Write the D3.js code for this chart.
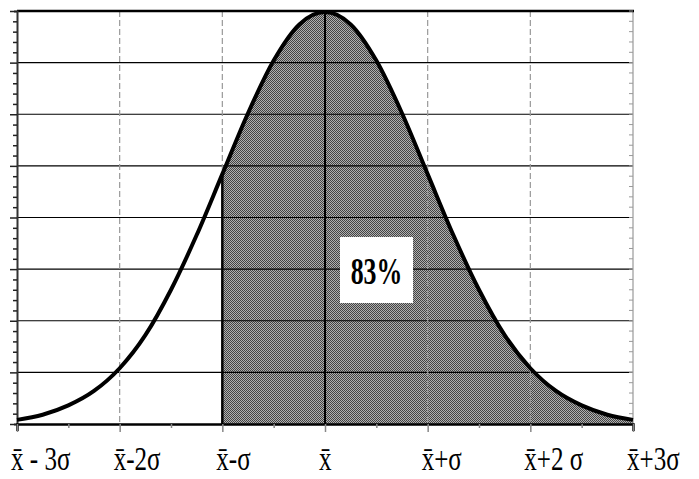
<!DOCTYPE html>
<html>
<head>
<meta charset="utf-8">
<script src="https://cdn.jsdelivr.net/npm/d3@7"></script>
<style>
  body { margin: 0; background: #fff; }
  svg { display: block; }
</style>
</head>
<body>
<div id="chart"></div>
<script>
// svg size
const c_width = 699;
const c_height = 479;

// data (x in sigma units, y = density)
const sigmaSteps = [-3, -2.75, -2.5, -2.25, -2, -1.75, -1.5, -1.25, -1, -0.75, -0.5, -0.25, 0,
                    0.25, 0.5, 0.75, 1, 1.25, 1.5, 1.75, 2, 2.25, 2.5, 2.75, 3];
const density = [0.004, 0.009, 0.018, 0.032, 0.054, 0.086, 0.130, 0.183, 0.242, 0.301, 0.352, 0.387, 0.399,
                 0.387, 0.352, 0.301, 0.242, 0.183, 0.130, 0.086, 0.054, 0.032, 0.018, 0.009, 0.004];
const tickValues = [-3, -2, -1, 0, 1, 2, 3];
const tickLabels = ["x\u0304 - 3\u03c3", "x\u0304-2\u03c3", "x\u0304-\u03c3", "x\u0304", "x\u0304+\u03c3", "x\u0304+2 \u03c3", "x\u0304+3\u03c3"];
const gridValues = [0.05, 0.1, 0.15, 0.2, 0.25, 0.3, 0.35];
const shadeFrom = -1;
const shadeTo = 3;
const shadeLabel = "83%";

const points = sigmaSteps.map((s, i) => ({x: s, y: density[i]}));

// plot area
const pLeft = 17, pRight = 633, pTop = 11, pBottom = 424;

const xScale = d3.scaleLinear().domain([-3, 3]).range([pLeft, pRight]);
const yScale = d3.scaleLinear().domain([0, 0.4]).range([pBottom, pTop]);

const svg = d3.select("#chart")
              .append("svg")
              .attr("width", c_width)
              .attr("height", c_height);

// dithered fill
const pat = svg.append("defs").append("pattern")
               .attr("id", "dither")
               .attr("width", 2).attr("height", 2)
               .attr("patternUnits", "userSpaceOnUse");
pat.append("rect").attr("width", 2).attr("height", 2).attr("fill", "#b0b0b0");
pat.append("rect").attr("width", 1).attr("height", 1).attr("fill", "#444");
pat.append("rect").attr("x", 1).attr("y", 1).attr("width", 1).attr("height", 1).attr("fill", "#444");

// shaded area
const shaded = points.filter(d => d.x >= shadeFrom && d.x <= shadeTo);
const area = d3.area()
               .x(d => xScale(d.x))
               .y0(yScale(0))
               .y1(d => yScale(d.y))
               .curve(d3.curveMonotoneX);
svg.append("path")
   .datum(shaded)
   .attr("d", area)
   .attr("fill", "url(#dither)");

// horizontal grid
svg.append("g")
   .selectAll("line")
   .data(gridValues)
   .enter()
   .append("line")
   .attr("x1", pLeft).attr("x2", pRight)
   .attr("y1", d => yScale(d)).attr("y2", d => yScale(d))
   .attr("stroke", "#000")
   .attr("stroke-width", 1.2);

// vertical dashed grid
svg.append("g")
   .selectAll("line")
   .data(tickValues.filter(d => d !== 0 && d !== -3))
   .enter()
   .append("line")
   .attr("x1", d => xScale(d)).attr("x2", d => xScale(d))
   .attr("y1", pTop).attr("y2", pBottom)
   .attr("stroke", "#999")
   .attr("stroke-width", 1.2)
   .attr("stroke-dasharray", d => d === 3 ? null : "6,3");

// center line
svg.append("line")
   .attr("x1", xScale(0)).attr("x2", xScale(0))
   .attr("y1", pTop).attr("y2", pBottom)
   .attr("stroke", "#000")
   .attr("stroke-width", 2);

// left edge of shading
svg.append("line")
   .attr("x1", xScale(shadeFrom)).attr("x2", xScale(shadeFrom))
   .attr("y1", yScale(density[sigmaSteps.indexOf(shadeFrom)])).attr("y2", pBottom)
   .attr("stroke", "#000")
   .attr("stroke-width", 2.5);

// top border
svg.append("line")
   .attr("x1", pLeft).attr("x2", pRight + 1)
   .attr("y1", pTop).attr("y2", pTop)
   .attr("stroke", "#000")
   .attr("stroke-width", 2.5);

// right side minor ticks (inside)
const minorY = d3.range(0, 0.4001, 0.01);
svg.append("g")
   .selectAll("line")
   .data(minorY)
   .enter()
   .append("line")
   .attr("x1", pRight - 4).attr("x2", pRight)
   .attr("y1", d => yScale(d)).attr("y2", d => yScale(d))
   .attr("stroke", "#999")
   .attr("stroke-width", 1);

// left axis
const yAxis = d3.axisLeft(yScale)
                .tickValues(minorY)
                .tickSize(3)
                .tickFormat("");
const yg = svg.append("g")
   .attr("transform", "translate(" + pLeft + ",0)")
   .call(yAxis);
yg.select(".domain").attr("stroke", "#333").attr("stroke-width", 2);
yg.selectAll(".tick line")
  .attr("stroke", "#222")
  .attr("stroke-width", 1.5)
  .attr("x2", d => Math.abs(d * 20 - Math.round(d * 20)) < 1e-6 ? -7 : -4);

// bottom axis
const xAxis = d3.axisBottom(xScale)
                .tickValues(d3.range(-3, 3.01, 0.5))
                .tickSize(7)
                .tickFormat("");
const xg = svg.append("g")
   .attr("transform", "translate(0," + pBottom + ")")
   .call(xAxis);
xg.select(".domain").attr("stroke", "#000").attr("stroke-width", 2.5);
xg.selectAll(".tick line")
  .attr("stroke", "#888")
  .attr("stroke-width", 1.5)
  .attr("y2", d => Number.isInteger(d) ? 8 : 4);

// curve
const line = d3.line()
               .x(d => xScale(d.x))
               .y(d => yScale(d.y))
               .curve(d3.curveMonotoneX);
svg.append("path")
   .datum(points)
   .attr("d", line)
   .attr("fill", "none")
   .attr("stroke", "#000")
   .attr("stroke-width", 4);

// tick labels
svg.append("g")
   .selectAll("text")
   .data(tickValues)
   .enter()
   .append("text")
   .attr("transform", d => "translate(" + (xScale(d) - 6) + ",470) scale(0.76,1)")
   .attr("font-family", "'Liberation Serif', 'Times New Roman', serif")
   .attr("font-size", 33)
   .attr("fill", "#000")
   .text((d, i) => tickLabels[i]);

// label box
svg.append("rect")
   .attr("x", 340).attr("y", 237)
   .attr("width", 73).attr("height", 66)
   .attr("fill", "#fff");
svg.append("text")
   .attr("transform", "translate(376.5,284) scale(0.68,1)")
   .attr("text-anchor", "middle")
   .attr("font-family", "'Liberation Serif', 'Times New Roman', serif")
   .attr("font-weight", "bold")
   .attr("font-size", 38)
   .attr("fill", "#000")
   .text(shadeLabel);
</script>
</body>
</html>
